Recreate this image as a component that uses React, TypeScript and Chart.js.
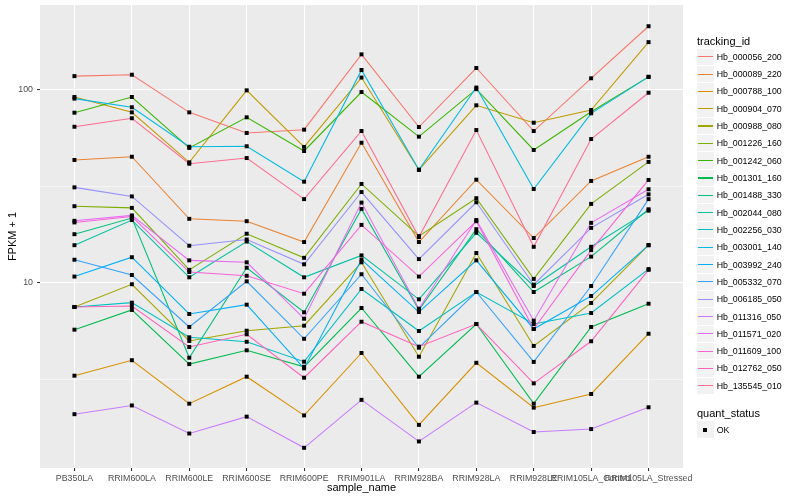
import React, { useEffect, useRef } from "react";
import { Chart, registerables } from "chart.js";

Chart.register(...registerables);

const categories = [
  "PB350LA", "RRIM600LA", "RRIM600LE", "RRIM600SE", "RRIM600PE", "RRIM901LA",
  "RRIM928BA", "RRIM928LA", "RRIM928LE", "RRIM105LA_Control", "RRIM105LA_Stressed",
];

const trackingIds = [
  "Hb_000056_200", "Hb_000089_220", "Hb_000788_100", "Hb_000904_070", "Hb_000988_080",
  "Hb_001226_160", "Hb_001242_060", "Hb_001301_160", "Hb_001488_330", "Hb_002044_080",
  "Hb_002256_030", "Hb_003001_140", "Hb_003992_240", "Hb_005332_070", "Hb_006185_050",
  "Hb_011316_050", "Hb_011571_020", "Hb_011609_100", "Hb_012762_050", "Hb_135545_010",
];

const colors = [
  "#F8766D", "#EA8331", "#D89000", "#C09B00", "#A3A500", "#7CAE00", "#39B600",
  "#00BB4E", "#00BF7D", "#00C1A3", "#00BFC4", "#00BAE0", "#00B0F6", "#35A2FF",
  "#9590FF", "#C77CFF", "#E76BF3", "#FA62DB", "#FF62BC", "#FF6C91",
];

const hb_000056_200 = [118, 120, 76.6, 59.9, 62.3, 153, 64.3, 130, 61.3, 115, 214];
const hb_000089_220 = [43.4, 45.1, 21.5, 20.9, 16.3, 53.3, 16.3, 34.3, 17.1, 33.8, 45.1];
const hb_000788_100 = [3.31, 3.98, 2.37, 3.27, 2.06, 4.34, 1.84, 3.86, 2.26, 2.66, 5.46];
const hb_000904_070 = [92.0, 76.6, 42.2, 99.6, 50.7, 116, 38.6, 83.3, 67.7, 78.8, 177];
const hb_000988_080 = [7.51, 9.85, 5.01, 5.66, 6.01, 12.8, 4.15, 14.3, 4.72, 7.88, 15.7];
const hb_001226_160 = [25.0, 24.5, 11.7, 18.0, 13.5, 32.6, 17.5, 27.5, 10.5, 25.7, 42.4];
const hb_001242_060 = [76.3, 92.0, 50.1, 72.2, 48.3, 97.6, 57.3, 101, 48.9, 77.2, 117];
const hb_001301_160 = [5.73, 7.25, 3.80, 4.48, 3.68, 7.42, 3.27, 6.13, 2.37, 5.92, 7.81];
const hb_001488_330 = [17.9, 21.7, 4.10, 12.0, 7.05, 24.2, 7.25, 19.0, 8.98, 13.7, 24.1];
const hb_002044_080 = [15.7, 21.2, 10.7, 16.4, 10.7, 13.9, 8.23, 18.2, 9.65, 15.4, 23.7];
const hb_002256_030 = [7.51, 7.91, 5.23, 4.96, 3.91, 9.31, 5.64, 8.98, 6.13, 6.99, 11.8];
const hb_003001_140 = [90.2, 81.4, 50.8, 51.1, 33.5, 127, 38.6, 103, 30.7, 75.7, 117];
const hb_003992_240 = [10.8, 13.6, 6.91, 7.72, 3.61, 13.2, 7.07, 13.1, 5.78, 8.56, 15.7];
const hb_005332_070 = [13.2, 11.0, 5.92, 10.2, 5.14, 11.1, 4.62, 8.98, 3.90, 9.65, 27.2];
const hb_006185_050 = [31.3, 28.1, 15.6, 16.8, 12.5, 29.6, 13.3, 26.2, 9.80, 19.3, 28.8];
const hb_011316_050 = [2.09, 2.32, 1.66, 2.03, 1.40, 2.48, 1.51, 2.40, 1.69, 1.75, 2.27];
const hb_011571_020 = [21.0, 22.4, 13.1, 12.8, 6.53, 26.1, 7.36, 21.2, 6.38, 20.5, 30.6];
const hb_011609_100 = [20.6, 22.1, 11.4, 10.9, 8.80, 20.0, 10.8, 20.9, 5.78, 14.8, 34.2];
const hb_012762_050 = [7.51, 7.60, 4.66, 5.42, 3.23, 6.30, 4.68, 6.13, 3.02, 4.99, 11.7];
const hb_135545_010 = [64.5, 71.4, 41.5, 44.4, 27.2, 61.3, 17.3, 62.0, 15.4, 55.7, 96.8];

const seriesValues = [
  hb_000056_200, hb_000089_220, hb_000788_100, hb_000904_070, hb_000988_080,
  hb_001226_160, hb_001242_060, hb_001301_160, hb_001488_330, hb_002044_080,
  hb_002256_030, hb_003001_140, hb_003992_240, hb_005332_070, hb_006185_050,
  hb_011316_050, hb_011571_020, hb_011609_100, hb_012762_050, hb_135545_010,
];

const yMajorTicks = [10, 100];
const yMinorTicks = [3.1623, 31.623];
const yMin = 1.1;
const yMax = 275.7;

const FONT = "'Liberation Sans', Arial, Helvetica, sans-serif";

const panelBg = {
  id: "panelBg",
  beforeDraw(chart: any) {
    const { ctx, chartArea } = chart;
    if (!chartArea) return;
    ctx.save();
    ctx.fillStyle = "#EBEBEB";
    ctx.fillRect(chartArea.left, chartArea.top, chartArea.right - chartArea.left, chartArea.bottom - chartArea.top);
    ctx.restore();
  },
};

const isMajor = (v: number) => yMajorTicks.some((m) => Math.abs(m - v) < 1e-6);

export default function App() {
  const ref = useRef<HTMLCanvasElement | null>(null);

  useEffect(() => {
    if (!ref.current) return;
    const lineSets = seriesValues.map((vals, s) => ({
      type: "line" as const,
      label: trackingIds[s],
      data: vals.map((v, i) => ({ x: i, y: v })),
      borderColor: colors[s],
      backgroundColor: colors[s],
      borderWidth: 1.07,
      pointRadius: 0,
      fill: false,
      tension: 0,
      order: -s,
    }));
    const pointSet = {
      type: "scatter" as const,
      label: "OK",
      data: seriesValues.flatMap((vals) => vals.map((v, i) => ({ x: i, y: v }))),
      pointStyle: "rect",
      pointRadius: 2.8,
      pointBackgroundColor: "#000000",
      pointBorderWidth: 0,
      borderColor: "#000000",
      showLine: false,
      order: -100,
    };

    const chart = new Chart(ref.current, {
      type: "line",
      data: { datasets: [...lineSets, pointSet] as any },
      plugins: [panelBg],
      options: {
        animation: false,
        responsive: false,
        maintainAspectRatio: false,
        layout: { padding: { left: 0, top: 5, right: 117, bottom: 0 } },
        plugins: { legend: { display: false }, tooltip: { enabled: false } },
        scales: {
          x: {
            type: "linear",
            min: -0.6,
            max: 10.6,
            afterFit: (scale: any) => {
              scale.height = 32;
              scale.paddingLeft = 0;
              scale.paddingRight = 0;
            },
            afterBuildTicks: (scale: any) => {
              scale.ticks = categories.map((_, i) => ({ value: i }));
            },
            ticks: {
              autoSkip: false,
              maxRotation: 0,
              minRotation: 0,
              padding: 2,
              color: "#4D4D4D",
              font: { family: FONT, size: 8.8 },
              callback: (v: any) => categories[Math.round(Number(v))] ?? "",
            },
            grid: {
              color: "#FFFFFF",
              lineWidth: 1.07,
              tickColor: "#333333",
              tickWidth: 1.07,
              tickLength: 3,
              drawTicks: true,
            },
            border: { display: false },
            title: {
              display: true,
              text: "sample_name",
              color: "#000000",
              font: { family: FONT, size: 11 },
              padding: { top: 0, bottom: 5 },
            },
          },
          y: {
            type: "logarithmic",
            min: yMin,
            max: yMax,
            afterFit: (scale: any) => {
              scale.width = 40;
              scale.paddingTop = 0;
              scale.paddingBottom = 0;
            },
            afterBuildTicks: (scale: any) => {
              scale.ticks = [...yMinorTicks, ...yMajorTicks]
                .sort((a, b) => a - b)
                .map((v) => ({ value: v, major: isMajor(v) }));
            },
            ticks: {
              autoSkip: false,
              padding: 4,
              color: "#4D4D4D",
              font: { family: FONT, size: 8.8 },
              callback: (v: any) => (isMajor(Number(v)) ? String(Math.round(Number(v))) : ""),
            },
            grid: {
              color: "#FFFFFF",
              lineWidth: (c: any) => (c.tick && isMajor(c.tick.value) ? 1.07 : 0.53),
              tickColor: (c: any) => (c.tick && isMajor(c.tick.value) ? "#333333" : "rgba(0,0,0,0)"),
              tickWidth: 1.07,
              tickLength: 3,
              drawTicks: true,
            },
            border: { display: false },
            title: {
              display: true,
              text: "FPKM + 1",
              color: "#000000",
              font: { family: FONT, size: 11 },
              padding: { top: 6, bottom: 0 },
            },
          },
        },
      } as any,
    });
    return () => chart.destroy();
  }, []);

  const keyTop0 = 56.7;
  const keyStep = 17.32;

  return (
    <div style={{ position: "absolute", left: 0, top: 0, width: 800, height: 500, background: "#FFFFFF", fontFamily: FONT }}>
      <canvas ref={ref} width={800} height={500} style={{ position: "absolute", left: 0, top: 0, width: 800, height: 500 }} />
      <div style={{ position: "absolute", left: 697, top: 40.7 - 7, height: 14, lineHeight: "14px", fontSize: 11, color: "#000", whiteSpace: "nowrap" }}>
        tracking_id
      </div>
      {trackingIds.map((id, i) => {
        const cy = keyTop0 + keyStep * i;
        return (
          <React.Fragment key={id}>
            <div style={{ position: "absolute", left: 697, top: cy - 8.2, width: 16.5, height: 16.4, background: "#F2F2F2" }} />
            <div style={{ position: "absolute", left: 697.5, top: cy - 0.5, width: 15, height: 1.07, background: colors[i] }} />
            <div style={{ position: "absolute", left: 716.7, top: cy - 6, height: 12, lineHeight: "12px", fontSize: 8.8, color: "#000", whiteSpace: "nowrap" }}>
              {id}
            </div>
          </React.Fragment>
        );
      })}
      <div style={{ position: "absolute", left: 697, top: 412.7 - 7, height: 14, lineHeight: "14px", fontSize: 11, color: "#000", whiteSpace: "nowrap" }}>
        quant_status
      </div>
      <div style={{ position: "absolute", left: 697, top: 429.5 - 8.2, width: 16.5, height: 16.4, background: "#F2F2F2" }} />
      <div style={{ position: "absolute", left: 703.2, top: 429.5 - 2, width: 4, height: 4, background: "#000" }} />
      <div style={{ position: "absolute", left: 716.7, top: 429.5 - 6, height: 12, lineHeight: "12px", fontSize: 8.8, color: "#000", whiteSpace: "nowrap" }}>
        OK
      </div>
    </div>
  );
}
